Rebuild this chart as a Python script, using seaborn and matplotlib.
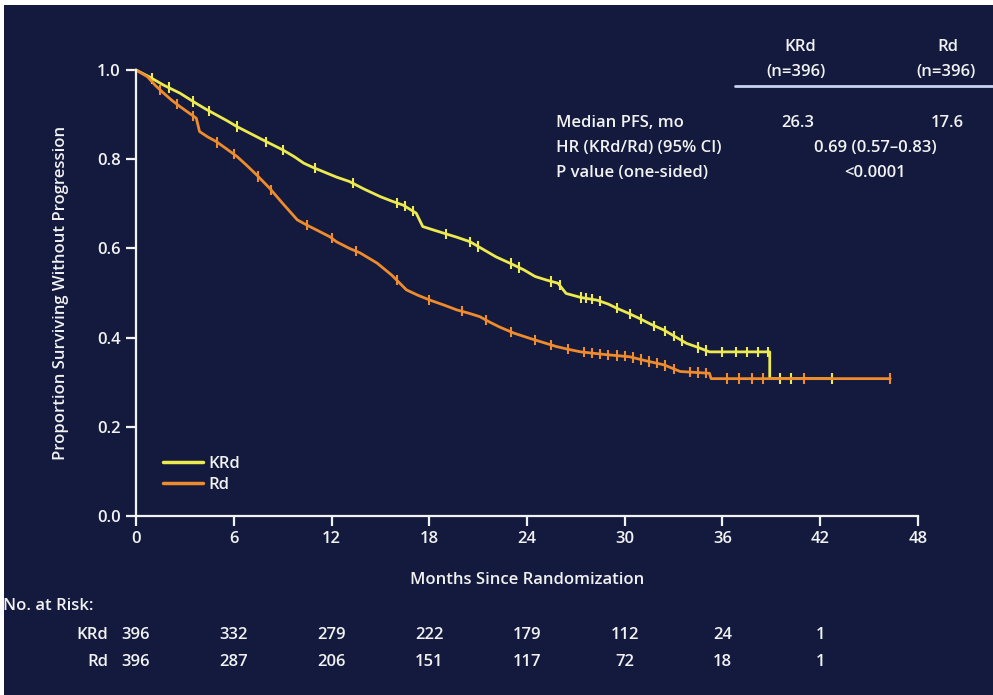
import numpy as np
import pandas as pd
import matplotlib
matplotlib.use('Agg')
import matplotlib.pyplot as plt
import matplotlib.transforms as mtransforms
from matplotlib.lines import Line2D
from matplotlib.patches import Rectangle
import seaborn as sns

# --- data ---
krd_month = [0, 0.8, 1.7, 2.7, 3.7, 4.3, 4.95, 5.6, 6.2, 7.0, 7.8, 8.4, 9.0, 9.7, 10.3, 10.9,
             11.5, 12.3, 13.1, 14.0, 15.0, 15.7, 16.4, 17.2, 17.6, 18.2, 18.9, 19.7, 20.5,
             21.3, 22.1, 23.0, 23.8, 24.5, 25.2, 25.9, 26.4, 27.3, 28.3, 29.0, 29.5, 30.2,
             30.9, 31.6, 32.4, 33.1, 33.8, 34.5, 35.2, 38.9, 38.9, 42.7]
krd_surv = [1.0, 0.985, 0.966, 0.948, 0.925, 0.912, 0.899, 0.886, 0.873, 0.858, 0.843, 0.832,
            0.821, 0.806, 0.791, 0.781, 0.772, 0.760, 0.750, 0.733, 0.716, 0.706, 0.697, 0.679,
            0.649, 0.642, 0.634, 0.625, 0.615, 0.598, 0.581, 0.566, 0.552, 0.537, 0.529, 0.522,
            0.499, 0.490, 0.484, 0.475, 0.466, 0.455, 0.443, 0.430, 0.417, 0.402, 0.387, 0.378,
            0.368, 0.368, 0.308, 0.308]

rd_month = [0, 0.7, 1.2, 1.7, 2.2, 2.7, 3.2, 3.7, 3.9, 4.4, 4.95, 5.6, 6.2, 6.8, 7.4, 8.2, 9.0,
            9.9, 10.5, 11.1, 11.9, 12.3, 13.1, 13.75, 14.8, 15.7, 16.6, 17.3, 18.05, 18.9, 19.7,
            20.4, 21.1, 21.7, 22.3, 23.2, 24.2, 25.0, 25.8, 26.5, 27.3, 28.8, 30.3, 31.3, 32.4,
            33.4, 34.3, 35.2, 35.3, 46.3]
rd_surv = [1.0, 0.985, 0.965, 0.948, 0.932, 0.918, 0.905, 0.892, 0.862, 0.850, 0.839, 0.822,
           0.806, 0.786, 0.765, 0.735, 0.701, 0.664, 0.652, 0.641, 0.626, 0.615, 0.600, 0.590,
           0.567, 0.540, 0.507, 0.495, 0.484, 0.473, 0.462, 0.455, 0.447, 0.435, 0.424, 0.410,
           0.398, 0.389, 0.380, 0.374, 0.368, 0.362, 0.357, 0.348, 0.339, 0.324, 0.322, 0.320,
           0.308, 0.308]

# censored observations (months)
krd_cens = [1.0, 2.0, 3.5, 4.5, 6.2, 8.0, 9.0, 11.0, 13.3, 16.0, 16.5, 17.0, 19.0, 20.5, 21.0,
            23.0, 23.5, 25.5, 26.0, 27.3, 27.6, 28.0, 28.5, 29.5, 30.3, 31.0, 31.8, 32.5, 33.0,
            33.5, 34.5, 35.0, 36.0, 36.8, 37.5, 38.2, 38.8, 39.5, 40.2, 42.7]
rd_cens = [1.5, 2.5, 3.5, 5.0, 6.0, 7.5, 8.3, 10.5, 12.0, 13.5, 16.0, 18.0, 20.0, 21.5, 23.0,
           24.5, 25.5, 26.5, 27.5, 28.0, 28.5, 29.0, 29.5, 30.0, 30.5, 31.0, 31.5, 32.0, 32.5,
           33.0, 34.0, 34.5, 35.0, 36.3, 37.0, 37.8, 38.5, 41.0, 46.3]

arms = ['KRd', 'Rd']
risk_months = [0, 6, 12, 18, 24, 30, 36, 42]
krd_risk = [396, 332, 279, 222, 179, 112, 24, 1]
rd_risk = [396, 287, 206, 151, 117, 72, 18, 1]

xticks = [0, 6, 12, 18, 24, 30, 36, 42, 48]
yticks = [0.0, 0.2, 0.4, 0.6, 0.8, 1.0]

median_pfs = ['26.3', '17.6']
hr_text = '0.69 (0.57\u20130.83)'
p_text = '<0.0001'

# --- style ---
bg = '#141a3e'
fg = '#f2f2f2'
colors = {'KRd': '#ecea4e', 'Rd': '#ee8b2c'}
fw = 'semibold'

sns.set_theme(style='ticks')
plt.rcParams['font.family'] = ['Open Sans', 'DejaVu Sans']
plt.rcParams['font.size'] = 12
plt.rcParams['font.weight'] = fw
plt.rcParams['axes.labelweight'] = fw

W, H = 993, 695
fig = plt.figure(figsize=(W / 100, H / 100), dpi=100, facecolor='white')
fig.patches.append(Rectangle((4 / W, 0), 1, 1 - 5 / H, transform=fig.transFigure,
                             facecolor=bg, edgecolor='none', zorder=-10))

ax = fig.add_axes([136 / W, 1 - 516 / H, (918 - 136) / W, (516 - 70) / H])
ax.set_facecolor('none')

df = pd.concat([
    pd.DataFrame({'month': krd_month, 'surv': krd_surv, 'arm': 'KRd'}),
    pd.DataFrame({'month': rd_month, 'surv': rd_surv, 'arm': 'Rd'}),
])
sns.lineplot(data=df, x='month', y='surv', hue='arm', hue_order=arms, palette=colors,
             estimator=None, sort=False, linewidth=2, clip_on=False, ax=ax)


def curve_value(months, surv, t):
    # value on the drawn curve at each censor time
    return np.interp(t, months, surv)


cens = pd.concat([
    pd.DataFrame({'month': krd_cens, 'surv': curve_value(krd_month, krd_surv, krd_cens), 'arm': 'KRd'}),
    pd.DataFrame({'month': rd_cens, 'surv': curve_value(rd_month, rd_surv, rd_cens), 'arm': 'Rd'}),
])
sns.scatterplot(data=cens, x='month', y='surv', hue='arm', hue_order=arms, palette=colors,
                marker='|', s=55, linewidth=1.5, legend=False, clip_on=False, ax=ax)

ax.set_xlim(0, 48)
ax.set_ylim(0, 1.0)
ax.set_xticks(xticks)
ax.set_yticks(yticks)
ax.set_yticklabels([f'{v:.1f}' for v in yticks])
for s in ['top', 'right']:
    ax.spines[s].set_visible(False)
for s in ['left', 'bottom']:
    ax.spines[s].set_color(fg)
    ax.spines[s].set_linewidth(1.6)
ax.tick_params(colors=fg, length=7, width=1.6, labelsize=12, pad=4)
for lab in ax.get_xticklabels() + ax.get_yticklabels():
    lab.set_fontweight(fw)
ax.set_xlabel('Months Since Randomization', color=fg, fontsize=12, fontweight=fw, labelpad=18)
ax.set_ylabel('Proportion Surviving Without Progression', color=fg, fontsize=12,
              fontweight=fw, labelpad=20)

leg = ax.legend(loc='upper left', bbox_to_anchor=(0.015, 0.169), frameon=False, fontsize=12,
                handlelength=2.4, handletextpad=0.35, labelspacing=0.3)
for t in leg.get_texts():
    t.set_color(fg)
for h in leg.get_lines():
    h.set_linewidth(2.5)


def px(x, y):
    return x / W, 1 - y / H


# stats block top right
fig.text(*px(800, 47), 'KRd', color=fg, ha='center', va='center', fontsize=12)
fig.text(*px(796, 72), '(n=396)', color=fg, ha='center', va='center', fontsize=12)
fig.text(*px(948, 47), 'Rd', color=fg, ha='center', va='center', fontsize=12)
fig.text(*px(946, 72), '(n=396)', color=fg, ha='center', va='center', fontsize=12)
fig.add_artist(Line2D([735 / W, 1.0], [1 - 86 / H, 1 - 86 / H], color='#c9d2f2', lw=2))

rows = ['Median PFS, mo', 'HR (KRd/Rd) (95% CI)', 'P value (one-sided)']
row_y = [123, 148, 173]
for label, y in zip(rows, row_y):
    fig.text(*px(556, y), label, color=fg, ha='left', va='center', fontsize=12)
fig.text(*px(798, row_y[0]), median_pfs[0], color=fg, ha='center', va='center', fontsize=12)
fig.text(*px(947, row_y[0]), median_pfs[1], color=fg, ha='center', va='center', fontsize=12)
fig.text(*px(875, row_y[1]), hr_text, color=fg, ha='center', va='center', fontsize=12)
fig.text(*px(875, row_y[2]), p_text, color=fg, ha='center', va='center', fontsize=12)

# number at risk
fig.text(*px(3, 606), 'No. at Risk:', color=fg, ha='left', va='center', fontsize=12)
trans = mtransforms.blended_transform_factory(ax.transData, fig.transFigure)
for arm, counts, y in [('KRd', krd_risk, 635), ('Rd', rd_risk, 662)]:
    fig.text(*px(108, y), arm, color=fg, ha='right', va='center', fontsize=12)
    for m, n in zip(risk_months, counts):
        ax.text(m, 1 - y / H, str(n), transform=trans, color=fg, ha='center', va='center',
                fontsize=12, clip_on=False)

fig.savefig('out.png', dpi=100, facecolor=fig.get_facecolor())
